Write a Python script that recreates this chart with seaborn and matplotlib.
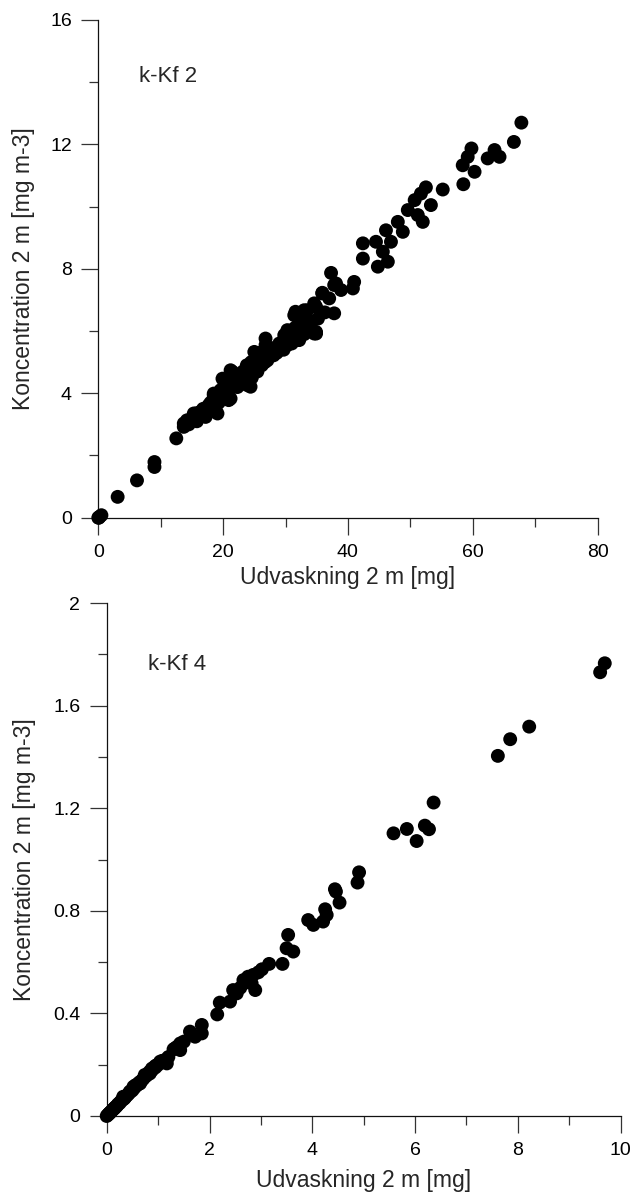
import matplotlib
matplotlib.use("Agg")
import matplotlib.pyplot as plt
from matplotlib.ticker import MultipleLocator, FuncFormatter
import seaborn as sns
import pandas as pd

# ---------------- data ----------------
kf2_udv = [
    0.0, 0.1, 0.2, 0.5, 3.1, 6.2, 9.0, 9.0, 12.5, 13.7, 13.7, 14.2, 14.5, 15.0, 15.3, 15.6,
    15.8, 16.3, 16.8, 17.2, 17.5, 17.7, 18.0, 18.3, 18.5, 18.5, 18.8, 19.0, 19.1, 19.3,
    19.6, 19.9, 20.1, 20.4, 20.8, 20.9, 21.0, 21.2, 21.2, 21.5, 21.8, 22.0, 22.3, 22.5,
    22.8, 23.2, 23.5, 23.8, 23.9, 24.0, 24.2, 24.4, 24.5, 24.6, 24.9, 25.0, 25.3, 25.5,
    25.8, 25.9, 26.2, 26.4, 26.7, 26.8, 26.8, 27.0, 27.1, 27.4, 27.8, 28.1, 28.3, 28.6,
    29.0, 29.4, 29.7, 29.8, 30.0, 30.3, 30.3, 30.8, 31.0, 31.4, 31.5, 31.6, 31.9, 32.0,
    32.2, 32.2, 32.6, 33.0, 33.0, 33.3, 33.5, 33.6, 34.2, 34.6, 34.6, 34.9, 34.9, 34.9,
    35.2, 35.9, 35.9, 36.3, 37.0, 37.3, 37.8, 37.8, 38.1, 38.9, 40.8, 41.0, 42.4, 42.4,
    44.5, 44.8, 45.6, 46.1, 46.4, 46.9, 48.0, 48.8, 49.6, 50.7, 51.2, 51.7, 52.0, 52.5,
    53.3, 55.2, 58.4, 58.5, 59.2, 59.8, 60.3, 62.4, 63.5, 64.3, 66.6, 67.8,
]
kf2_konc = [
    0.0, 0.0, 0.03, 0.08, 0.67, 1.20, 1.79, 1.63, 2.55, 2.92, 3.03, 3.13, 3.00, 3.20, 3.35, 3.35,
    3.10, 3.40, 3.50, 3.24, 3.40, 3.62, 3.70, 3.50, 3.94, 3.99, 3.46, 3.90, 3.35, 3.70,
    4.10, 4.47, 4.42, 4.00, 4.30, 3.78, 4.10, 3.83, 4.74, 4.69, 4.30, 4.50, 4.20, 4.42,
    4.60, 4.70, 4.40, 4.90, 4.26, 4.60, 4.80, 4.21, 5.00, 4.50, 4.80, 5.33, 5.10, 4.70,
    4.96, 5.30, 4.90, 5.20, 5.00, 5.55, 5.76, 5.40, 5.06, 5.20, 5.45, 5.22, 5.40, 5.30,
    5.60, 5.50, 5.40, 5.87, 5.80, 5.55, 6.03, 5.90, 5.60, 6.51, 6.10, 6.62, 5.71, 6.00,
    6.35, 5.71, 6.20, 6.67, 5.90, 6.08, 6.67, 6.30, 6.30, 6.89, 5.92, 5.97, 6.78, 5.92,
    6.40, 7.23, 7.21, 6.60, 7.05, 7.87, 6.57, 7.48, 7.53, 7.32, 7.37, 7.58, 8.82, 8.33,
    8.87, 8.07, 8.55, 9.24, 8.23, 8.87, 9.51, 9.19, 9.89, 10.21, 9.73, 10.42, 9.51, 10.62,
    10.05, 10.55, 11.33, 10.72, 11.60, 11.87, 11.12, 11.55, 11.82, 11.60, 12.08, 12.70,
]

kf4_udv = [
    0.00, 0.02, 0.04, 0.05, 0.06, 0.08, 0.10, 0.12, 0.14, 0.15, 0.16, 0.18, 0.20, 0.22,
    0.25, 0.27, 0.30, 0.32, 0.33, 0.35, 0.36, 0.38, 0.41, 0.44, 0.45, 0.47, 0.50, 0.52,
    0.54, 0.56, 0.57, 0.60, 0.62, 0.63, 0.65, 0.66, 0.70, 0.73, 0.74, 0.76, 0.80, 0.83,
    0.84, 0.87, 0.88, 0.90, 0.91, 0.94, 0.95, 0.97, 1.00, 1.04, 1.08, 1.13, 1.17, 1.20,
    1.30, 1.33, 1.37, 1.43, 1.43, 1.50, 1.62, 1.72, 1.85, 1.85, 2.15, 2.20, 2.40, 2.46,
    2.53, 2.60, 2.66, 2.70, 2.75, 2.78, 2.82, 2.85, 2.89, 2.95, 3.02, 3.16, 3.42, 3.50,
    3.53, 3.63, 3.92, 4.02, 4.21, 4.25, 4.28, 4.44, 4.46, 4.53, 4.88, 4.91, 5.58, 5.84,
    6.03, 6.19, 6.27, 6.36, 7.61, 7.85, 8.22, 9.60, 9.69,
]
kf4_konc = [
    0.000, 0.004, 0.008, 0.010, 0.012, 0.016, 0.020, 0.025, 0.028, 0.030, 0.033, 0.036,
    0.040, 0.046, 0.050, 0.056, 0.062, 0.075, 0.066, 0.070, 0.074, 0.078, 0.083, 0.090,
    0.095, 0.096, 0.100, 0.114, 0.110, 0.120, 0.118, 0.122, 0.125, 0.130, 0.127, 0.134,
    0.142, 0.150, 0.160, 0.155, 0.162, 0.172, 0.166, 0.176, 0.185, 0.183, 0.186, 0.194,
    0.190, 0.198, 0.200, 0.212, 0.215, 0.218, 0.205, 0.230, 0.260, 0.264, 0.270, 0.283,
    0.257, 0.290, 0.329, 0.309, 0.355, 0.322, 0.396, 0.442, 0.446, 0.491, 0.478, 0.500,
    0.530, 0.520, 0.543, 0.535, 0.517, 0.550, 0.491, 0.560, 0.572, 0.593, 0.593, 0.654,
    0.706, 0.641, 0.764, 0.745, 0.758, 0.806, 0.784, 0.884, 0.875, 0.832, 0.910, 0.950,
    1.102, 1.119, 1.072, 1.132, 1.118, 1.222, 1.404, 1.469, 1.518, 1.730, 1.765,
]

panel_labels = ["k-Kf 2", "k-Kf 4"]
x_label = "Udvaskning 2 m [mg]"
y_label = "Koncentration 2 m [mg m-3]"

# ---------------- style ----------------
sns.set_style("ticks")
plt.rcParams["font.family"] = ["Liberation Sans", "DejaVu Sans"]

W, H, DPI = 634, 1193, 100
fig = plt.figure(figsize=(W / DPI, H / DPI), dpi=DPI)


def px_axes(left, top, right, bottom):
    return fig.add_axes([left / W, 1 - bottom / H, (right - left) / W, (bottom - top) / H])


ax1 = px_axes(98.3, 20, 597.5, 517.7)
ax2 = px_axes(106.7, 603, 620.7, 1116)

df1 = pd.DataFrame({"x": kf2_udv, "y": kf2_konc})
df2 = pd.DataFrame({"x": kf4_udv, "y": kf4_konc})

for ax, df in [(ax1, df1), (ax2, df2)]:
    sns.scatterplot(data=df, x="x", y="y", ax=ax, color="black", s=100,
                    edgecolor="none", linewidth=0, clip_on=False, zorder=3)

fmt = FuncFormatter(lambda v, p: "%g" % round(v, 6))

setup = [
    (ax1, (0, 80), (0, 16), 20, 10, 4, 2, (6.5, 14.17), panel_labels[0], -0.149, -0.121),
    (ax2, (0, 10), (0, 2), 2, 1, 0.4, 0.2, (0.80, 1.762), panel_labels[1], -0.159, -0.125),
]
for ax, xl, yl, xM, xm, yM, ym, tpos, lab, ylx, xly in setup:
    ax.set_xlim(*xl)
    ax.set_ylim(*yl)
    ax.xaxis.set_major_locator(MultipleLocator(xM))
    ax.xaxis.set_minor_locator(MultipleLocator(xm))
    ax.yaxis.set_major_locator(MultipleLocator(yM))
    ax.yaxis.set_minor_locator(MultipleLocator(ym))
    ax.xaxis.set_major_formatter(fmt)
    ax.yaxis.set_major_formatter(fmt)
    sns.despine(ax=ax)
    for s in ("left", "bottom"):
        ax.spines[s].set_linewidth(0.9)
        ax.spines[s].set_color("#111111")
    ax.tick_params(which="major", direction="out", length=12, width=0.9,
                   color="#333333", labelsize=14, pad=7, labelcolor="black")
    ax.tick_params(which="minor", direction="out", length=6.5, width=0.9,
                   color="#333333")
    ax.set_xlabel(x_label, fontsize=16.5, va="center")
    ax.set_ylabel(y_label, fontsize=16.5, va="center")
    ax.yaxis.set_label_coords(ylx, 0.5)
    ax.xaxis.set_label_coords(0.5, xly)
    ax.text(tpos[0], tpos[1], lab, fontsize=16, ha="left", va="center")
    ax.set_facecolor("white")

fig.savefig("out.png", dpi=DPI, facecolor="white")
